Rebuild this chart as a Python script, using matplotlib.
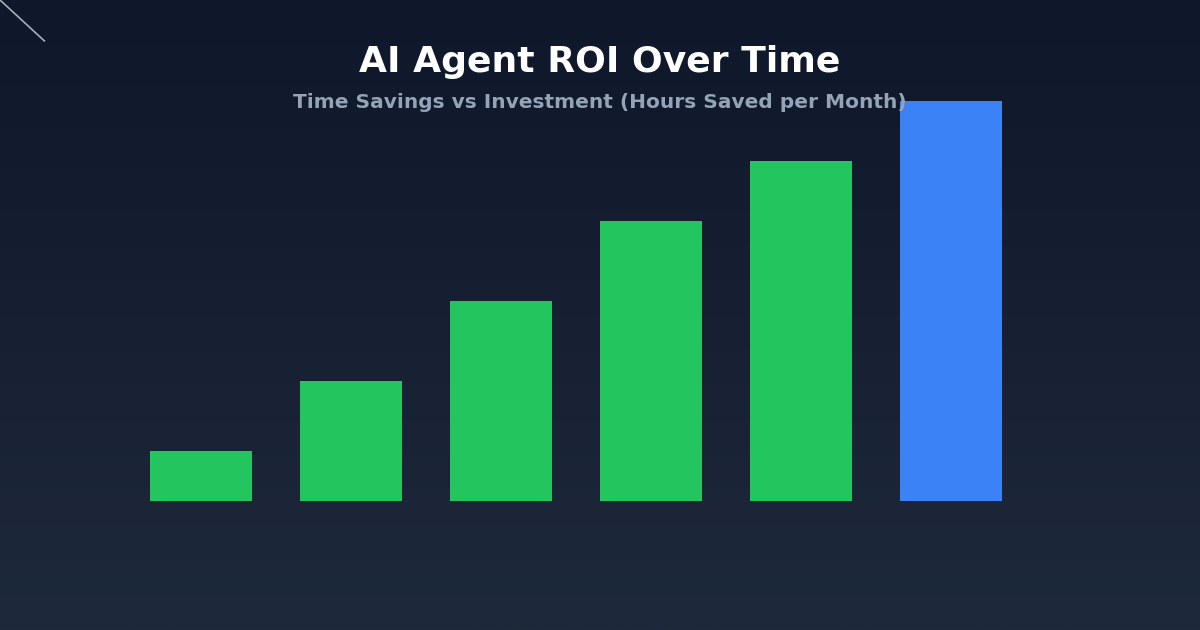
import numpy as np
import matplotlib
matplotlib.use("Agg")
import matplotlib.pyplot as plt

# data (hours saved per month)
periods = ["Month 1", "Month 2", "Month 3", "Month 4", "Month 5", "Month 6"]
hours_saved = [50, 120, 200, 280, 340, 400]
bar_colors = ["#22c55e", "#22c55e", "#22c55e", "#22c55e", "#22c55e", "#3b82f6"]

title = "AI Agent ROI Over Time"
subtitle = "Time Savings vs Investment (Hours Saved per Month)"

fig = plt.figure(figsize=(12, 6.3), dpi=100)

# background gradient
bg = fig.add_axes([0, 0, 1, 1])
top = np.array([0x0f, 0x17, 0x2a]) / 255
bot = np.array([0x1e, 0x29, 0x3b]) / 255
t = np.linspace(0, 1, 256)[:, None]
grad = top[None, :] * (1 - t) + bot[None, :] * t
bg.imshow(grad[:, None, :], aspect="auto", extent=[0, 1, 0, 1])
bg.plot([0.0, 0.037], [1.0, 0.935], color="#cbd5e1", lw=1.2, alpha=0.8)
bg.set_xlim(0, 1)
bg.set_ylim(0, 1)
bg.axis("off")

ax = fig.add_axes([0, 0, 1, 1])
ax.patch.set_alpha(0)
x = np.arange(len(periods))
ax.bar(x, hours_saved, width=0.68, color=bar_colors)
ax.set_xlim(-1.337, 6.663)
ax.set_ylim(-129.5, 501)
ax.axis("off")

fig.text(0.5, 1 - 62 / 630, title, ha="center", va="center",
         fontsize=26, fontweight="bold", color="white")
fig.text(0.5, 1 - 102 / 630, subtitle, ha="center", va="center",
         fontsize=14.5, fontweight="bold", color="#94a3b8")

fig.savefig("out.png", dpi=100)
